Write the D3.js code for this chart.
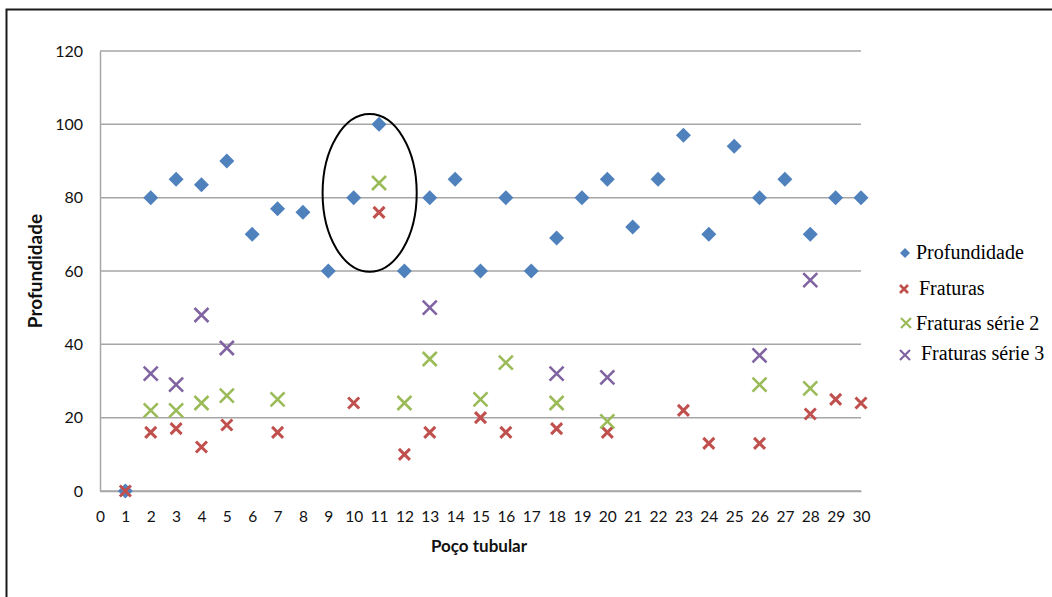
<!DOCTYPE html>
<html>
<head>
<meta charset="utf-8">
<script src="https://cdn.jsdelivr.net/npm/d3@7"></script>
<style>
  html, body { margin: 0; padding: 0; background: #fff; }
  svg { display: block; }
</style>
</head>
<body>
<svg id="chart" width="1052" height="597"></svg>
<script>
// Well numbers (x positions) shared by all series
const wells = [1, 2, 3, 4, 5, 6, 7, 8, 9, 10, 11, 12, 13, 14, 15, 16, 17, 18, 19, 20, 21, 22, 23, 24, 25, 26, 27, 28, 29, 30];

// Depth of each well (m)
const profundidade = [0, 80, 85, 83.5, 90, 70, 77, 76, 60, 80, 100, 60, 80, 85, 60, 80, 60, 69, 80, 85, 72, 85, 97, 70, 94, 80, 85, 70, 80, 80];

// Fracture depths; null where the well has no entry
const fraturas = [0, 16, 17, 12, 18, null, 16, null, null, 24, 76, 10, 16, null, 20, 16, null, 17, null, 16, null, null, 22, 13, null, 13, null, 21, 25, 24];
const fraturasSerie2 = [null, 22, 22, 24, 26, null, 25, null, null, null, 84, 24, 36, null, 25, 35, null, 24, null, 19, null, null, null, null, null, 29, null, 28, null, null];
const fraturasSerie3 = [null, 32, 29, 48, 39, null, null, null, null, null, null, null, 50, null, null, null, null, 32, null, 31, null, null, null, null, null, 37, null, 57.5, null, null];

// Axis ticks
const xTicks = d3.range(0, 31);
const yTicks = [0, 20, 40, 60, 80, 100, 120];

// Series names
const seriesNames = ["Profundidade", "Fraturas", "Fraturas série 2", "Fraturas série 3"];

// Highlight ellipse around well 11 (data units)
const highlight = { cx: 10.63, cy: 81.3, rx: 1.855, ry: 21.5 };

const colors = {
  blue: "#4F81BD",
  red: "#C0504D",
  green: "#9BBB59",
  purple: "#8064A2"
};

const svg = d3.select("#chart");

// Outer frame
svg.append("rect")
  .attr("x", 6.5).attr("y", 9.5)
  .attr("width", 1100).attr("height", 700)
  .attr("fill", "none")
  .attr("stroke", "#1a1a1a")
  .attr("stroke-width", 2);

const x = d3.scaleLinear().domain([0, 30]).range([100, 861]);
const y = d3.scaleLinear().domain([0, 120]).range([491, 51]);

const tickFont = "Lato, 'Open Sans', sans-serif";

// Horizontal gridlines
svg.append("g")
  .selectAll("line")
  .data(yTicks)
  .join("line")
  .attr("x1", x(0)).attr("x2", x(30))
  .attr("y1", d => y(d)).attr("y2", d => y(d))
  .attr("stroke", "#a6a6a6")
  .attr("stroke-width", 1.5);

// Y axis
const yAxis = svg.append("g")
  .attr("transform", `translate(${x(0)},0)`)
  .call(d3.axisLeft(y).tickValues(yTicks).tickSize(0).tickPadding(17));
yAxis.select(".domain").attr("stroke", "#a6a6a6").attr("stroke-width", 1.5);
yAxis.selectAll("text")
  .attr("font-family", tickFont)
  .attr("font-size", 16)
  .attr("fill", "#111");

// X axis
const xAxis = svg.append("g")
  .attr("transform", `translate(0,${y(0)})`)
  .call(d3.axisBottom(x).tickValues(xTicks).tickFormat(d3.format("d")).tickSize(0).tickPadding(20));
xAxis.select(".domain").attr("stroke", "#a6a6a6").attr("stroke-width", 1.5);
xAxis.selectAll("text")
  .attr("font-family", tickFont)
  .attr("font-size", 15.5)
  .attr("fill", "#111");

// Axis titles
svg.append("text")
  .attr("transform", `translate(42,${(y(0) + y(120)) / 2}) rotate(-90)`)
  .attr("text-anchor", "middle")
  .attr("font-family", tickFont)
  .attr("font-weight", "bold")
  .attr("font-size", 19)
  .attr("fill", "#111")
  .text("Profundidade");

svg.append("text")
  .attr("x", 479).attr("y", 552)
  .attr("text-anchor", "middle")
  .attr("font-family", tickFont)
  .attr("font-weight", "bold")
  .attr("font-size", 17)
  .attr("fill", "#111")
  .text("Poço tubular");

// Marker shapes
function diamondPath(r) {
  return `M0,${-r}L${r},0L0,${r}L${-r},0Z`;
}
function crossPath(r) {
  return `M${-r},${-r}L${r},${r}M${-r},${r}L${r},${-r}`;
}

const pts = vals => wells.map((w, i) => ({ w, v: vals[i] })).filter(d => d.v !== null);

const plot = svg.append("g");

// Depth markers
plot.append("g")
  .selectAll("path")
  .data(pts(profundidade))
  .join("path")
  .attr("transform", d => `translate(${x(d.w)},${y(d.v)})`)
  .attr("d", diamondPath(7.5))
  .attr("fill", colors.blue);

function crossSeries(vals, color, r, sw) {
  plot.append("g")
    .selectAll("path")
    .data(pts(vals))
    .join("path")
    .attr("transform", d => `translate(${x(d.w)},${y(d.v)})`)
    .attr("d", crossPath(r))
    .attr("fill", "none")
    .attr("stroke", color)
    .attr("stroke-width", sw);
}

crossSeries(fraturas, colors.red, 5.5, 3);
crossSeries(fraturasSerie2, colors.green, 7, 2.6);
crossSeries(fraturasSerie3, colors.purple, 7, 2.6);

// Highlight ellipse
svg.append("ellipse")
  .attr("cx", x(highlight.cx))
  .attr("cy", y(highlight.cy))
  .attr("rx", x(highlight.rx) - x(0))
  .attr("ry", y(0) - y(highlight.ry))
  .attr("fill", "none")
  .attr("stroke", "#000")
  .attr("stroke-width", 2);

// Legend
const legendFont = "'Liberation Serif', 'Times New Roman', serif";
const legendItems = [
  { name: seriesNames[0], type: "diamond", color: colors.blue, mx: 905, my: 253, tx: 916, ty: 259 },
  { name: seriesNames[1], type: "cross", color: colors.red, mx: 904, my: 289, tx: 919, ty: 295, r: 4, sw: 2.6 },
  { name: seriesNames[2], type: "cross", color: colors.green, mx: 906, my: 323, tx: 916, ty: 330, r: 5, sw: 2.2 },
  { name: seriesNames[3], type: "cross", color: colors.purple, mx: 905, my: 355, tx: 921, ty: 360, r: 5, sw: 2.2 }
];

const legend = svg.append("g");
legendItems.forEach(it => {
  if (it.type === "diamond") {
    legend.append("path")
      .attr("transform", `translate(${it.mx},${it.my})`)
      .attr("d", diamondPath(5))
      .attr("fill", it.color);
  } else {
    legend.append("path")
      .attr("transform", `translate(${it.mx},${it.my})`)
      .attr("d", crossPath(it.r))
      .attr("fill", "none")
      .attr("stroke", it.color)
      .attr("stroke-width", it.sw);
  }
  legend.append("text")
    .attr("x", it.tx).attr("y", it.ty)
    .attr("font-family", legendFont)
    .attr("font-size", 20)
    .attr("fill", "#000")
    .text(it.name);
});
</script>
</body>
</html>
